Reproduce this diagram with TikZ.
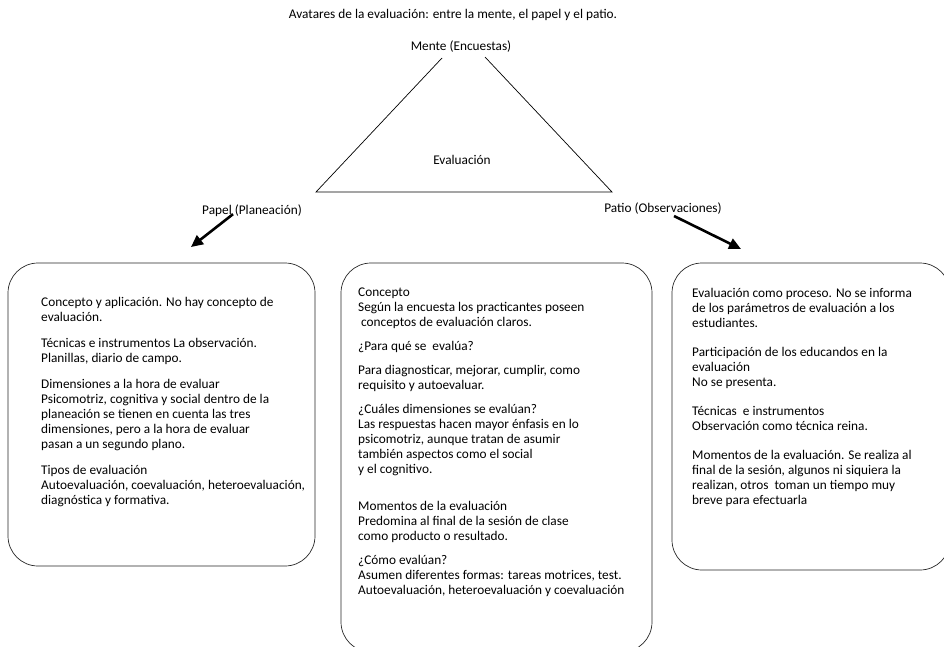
\documentclass[tikz,border=0pt]{standalone}
\usepackage{fontspec}
\setmainfont{Carlito}
\usetikzlibrary{arrows.meta}

\begin{document}
\begin{tikzpicture}[x=1pt, y=-1pt,
    tag/.style={font=\fontsize{13.3}{14.7}\selectfont, inner sep=1pt},
    panel/.style={draw=black!85, line width=0.7pt, rounded corners=30pt},
    bodytext/.style={font=\fontsize{13.3}{15}\selectfont, align=left, anchor=north west, inner sep=0pt},
    pointer/.style={-{Triangle[length=12pt,width=11pt]}, line width=2.6pt}
]
    \useasboundingbox (0,0) rectangle (944,646);

    % Titulo y triangulo
    \node[tag] (titulo) at (453,15) {Avatares de la evaluación: entre la mente, el papel y el patio.};
    \coordinate (tl) at (442,58);
    \coordinate (tr) at (485,57);
    \coordinate (bl) at (316,192);
    \coordinate (br) at (612,192);
    \draw[line width=0.7pt] (tl) -- (bl) -- (br) -- (tr);
    \node[tag] (mente) at (461,47) {Mente (Encuestas)};
    \node[tag] (evaluacion) at (462,160) {Evaluación};
    \node[tag] (papel) at (252,211) {Papel (Planeación)};
    \node[tag] (patio) at (663,209) {Patio (Observaciones)};

    % Flechas
    \coordinate (papeltip) at (191,247);
    \coordinate (patiotip) at (741,249);
    \draw[pointer] ([xshift=-19pt,yshift=4pt]papel.south) -- (papeltip);
    \draw[pointer] ([xshift=11pt]patio.south) -- (patiotip);

    % Recuadros
    \node[panel, minimum width=307pt, minimum height=303pt] (papelbox) at (161.5,414.5) {};
    \node[panel, minimum width=311pt, minimum height=389pt] (mentebox) at (496.5,457.5) {};
    \node[panel, minimum width=278pt, minimum height=307pt] (patiobox) at (811,416.5) {};

    % Textos
    \node[bodytext] (papeltxt) at (41,297) {Concepto y aplicación. No hay concepto de\\
        evaluación.\\[11pt]
        Técnicas e instrumentos La observación.\\
        Planillas, diario de campo.\\[11pt]
        Dimensiones a la hora de evaluar\\
        Psicomotriz, cognitiva y social dentro de la\\
        planeación se tienen en cuenta las tres\\
        dimensiones, pero a la hora de evaluar\\
        pasan a un segundo plano.\\[11pt]
        Tipos de evaluación\\
        Autoevaluación, coevaluación, heteroevaluación,\\
        diagnóstica y formativa.};
    \node[bodytext] (mentetxt) at (358,288) {Concepto\\
        Según la encuesta los practicantes poseen\\
        \hspace{3pt}conceptos de evaluación claros.\\[9pt]
        ¿Para qué se\ \ evalúa?\\[9pt]
        Para diagnosticar, mejorar, cumplir, como\\
        requisito y autoevaluar.\\[9pt]
        ¿Cuáles dimensiones se evalúan?\\
        Las respuestas hacen mayor énfasis en lo\\
        psicomotriz, aunque tratan de asumir\\
        también aspectos como el social\\
        y el cognitivo.\\[22pt]
        Momentos de la evaluación\\
        Predomina al final de la sesión de clase\\
        como producto o resultado.\\[9pt]
        ¿Cómo evalúan?\\
        Asumen diferentes formas: tareas motrices, test.\\
        Autoevaluación, heteroevaluación y coevaluación};
    \node[bodytext] (patiotxt) at (692,288) {Evaluación como proceso. No se informa\\
        de los parámetros de evaluación a los\\
        estudiantes.\\[14pt]
        Participación de los educandos en la\\
        evaluación\\
        No se presenta.\\[14pt]
        Técnicas\ \ e instrumentos\\
        Observación como técnica reina.\\[14pt]
        Momentos de la evaluación. Se realiza al\\
        final de la sesión, algunos ni siquiera la\\
        realizan, otros\ \ toman un tiempo muy\\
        breve para efectuarla};
\end{tikzpicture}
\end{document}
